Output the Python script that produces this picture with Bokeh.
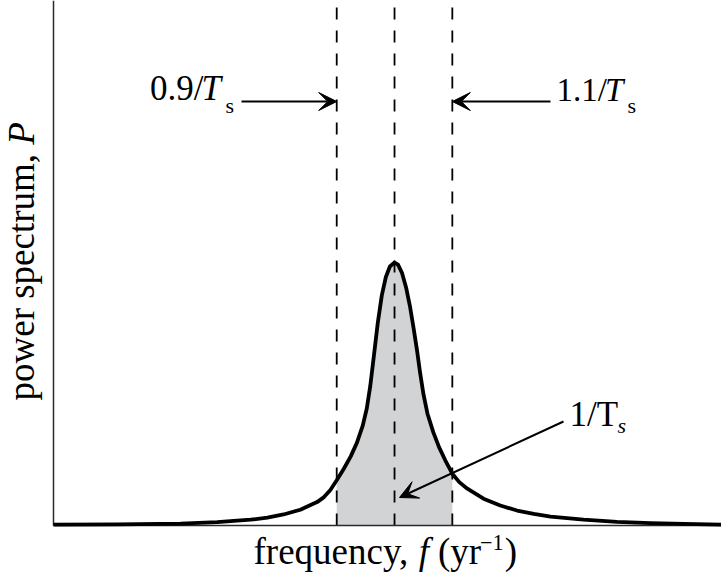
import math
from bokeh.plotting import figure
from bokeh.models import Range1d, Label, Arrow, VeeHead
from bokeh.embed import file_html
from bokeh.resources import INLINE

# ---- data (frequency in units of 1/Ts, power normalised to peak) ----
freq = [0.410, 0.520, 0.630, 0.693, 0.751, 0.780, 0.808, 0.837, 0.866, 0.878,
        0.889, 0.900, 0.912, 0.924, 0.935, 0.945, 0.952, 0.958, 0.964, 0.971,
        0.978, 0.985, 0.992, 1.000, 1.006, 1.013, 1.020, 1.027, 1.033, 1.039,
        1.044, 1.050, 1.057, 1.067, 1.077, 1.088, 1.100, 1.112, 1.126, 1.154,
        1.183, 1.212, 1.241, 1.270, 1.327, 1.385, 1.443, 1.501, 1.566]
power = [0.003, 0.004, 0.007, 0.0125, 0.022, 0.030, 0.042, 0.060, 0.089, 0.108,
         0.135, 0.172, 0.215, 0.262, 0.315, 0.380, 0.445, 0.530, 0.640, 0.770,
         0.875, 0.945, 0.985, 1.000, 0.992, 0.960, 0.905, 0.830, 0.750, 0.665,
         0.585, 0.500, 0.425, 0.355, 0.298, 0.247, 0.197, 0.165, 0.140, 0.102,
         0.076, 0.057, 0.044, 0.034, 0.022, 0.014, 0.009, 0.0065, 0.0035]
band_lines = [0.9, 1.0, 1.1]
band_lo, band_hi = 0.9, 1.1
AXIS_F = 0.41          # frequency where the power axis is drawn

W, H = 721, 579
X_START, X_END = 0.3183, 1.5657
Y_START, Y_END = -0.2053, 1.9962

FONT = "Liberation Serif"

p = figure(width=W, height=H, output_backend="svg", toolbar_location=None,
           x_range=Range1d(X_START, X_END), y_range=Range1d(Y_START, Y_END),
           min_border=0, min_border_left=0, min_border_right=0,
           min_border_top=0, min_border_bottom=0)
p.background_fill_color = "white"
p.border_fill_color = "white"
p.outline_line_color = None
p.grid.visible = False
p.axis.visible = False

PX_PER_F = W / (X_END - X_START)
PX_PER_P = H / (Y_END - Y_START)


def fx(px):
    return X_START + px / PX_PER_F


def py(y):
    return Y_END - y / PX_PER_P


# shaded band
bx = [f for f in freq if band_lo <= f <= band_hi]
by = [v for f, v in zip(freq, power) if band_lo <= f <= band_hi]
p.varea(x=bx, y1=[0] * len(bx), y2=by, fill_color="#d1d3d4")

# dashed verticals
p.segment(x0=band_lines, y0=[0] * 3, x1=band_lines, y1=[Y_END] * 3,
          line_color="black", line_width=1.8, line_dash="12 11")

# axis lines
p.segment(x0=[AXIS_F, AXIS_F], y0=[0, 0], x1=[AXIS_F, X_END], y1=[Y_END, 0],
          line_color="#2a2a2a", line_width=1.5)

# spectrum curve
p.line(freq, power, line_color="black", line_width=3.8, line_join="round")

# ---- text helpers (Times-metric advance widths) ----
ADV = {'f': 333, 'r': 333, 'e': 444, 'q': 500, 'u': 500, 'n': 500, 'c': 444,
       'y': 500, ',': 250, ' ': 250, '(': 333, ')': 333, '.': 250, '/': 278,
       'T': 611, 'p': 500, 'o': 500, 'w': 722, 's': 389, 't': 278, 'm': 778,
       'P': 556, '−': 564, '0': 500, '1': 500, '9': 500}
ADV_IT = {'f': 278, 'T': 556, 'P': 611, 's': 389}
BASE_FIX = 0.32     # baseline correction (fraction of font size)


def adv(s, italic, size):
    tbl = ADV_IT if italic else ADV
    return sum(tbl.get(ch, ADV.get(ch, 500)) for ch in s) / 1000 * size


def lab(text, px, ypx, size, italic=False, align="left", angle=0.0):
    if angle:
        px = px - 0.30 * size
    else:
        ypx = ypx - BASE_FIX * size
    p.add_layout(Label(x=fx(px), y=py(ypx), text=text, angle=angle,
                       text_font=FONT, text_font_size=f"{size}px",
                       text_font_style="italic" if italic else "normal",
                       text_align=align, text_baseline="alphabetic",
                       text_color="black"))


def run(parts, px, ypx):
    x = px
    for text, italic, size, shift, kern in parts:
        x += kern
        lab(text, x, ypx + shift, size, italic)
        x += adv(text, italic, size)


S = 37
run([("frequency,", False, S, 0, 0), ("f", True, S, 0, 8),
     ("(yr", False, S, 0, 9), ("−1", False, 0.6 * S, -14, -1),
     (")", False, S, 0, 1)], 253, 563)

# y label (rotated)
y0 = 400
lab("power spectrum,", 32, y0, S, angle=math.pi / 2)
lab("P", 32, y0 - adv("power spectrum, ", False, S), S, italic=True, angle=math.pi / 2)

# annotations
A = 35
SUB = 22
lab("0.9/", 203, 99, A, align="right")
lab("T", 201, 99, A, italic=True)
lab("s", 225, 112, SUB)

B = 33
lab("1.1/", 556, 100, B)
lab("T", 556 + adv("1.1/", False, B) - 2, 100, B, italic=True)
lab("s", 627, 112, SUB)

lab("1/T", 569, 425, A)
lab("s", 617, 432, SUB, italic=True)

head = dict(size=18, fill_color="black", line_color="black", line_width=1)
p.add_layout(Arrow(end=VeeHead(**head), x_start=fx(241), y_start=py(101),
                   x_end=band_lines[0], y_end=py(101), line_width=2, line_color="black"))
p.add_layout(Arrow(end=VeeHead(**head), x_start=fx(550), y_start=py(101),
                   x_end=band_lines[2], y_end=py(101), line_width=2, line_color="black"))
p.add_layout(Arrow(end=VeeHead(**head), x_start=fx(563), y_start=py(421),
                   x_end=fx(399), y_end=py(497), line_width=2, line_color="black"))

open("out.html", "w").write(file_html(p, INLINE))
